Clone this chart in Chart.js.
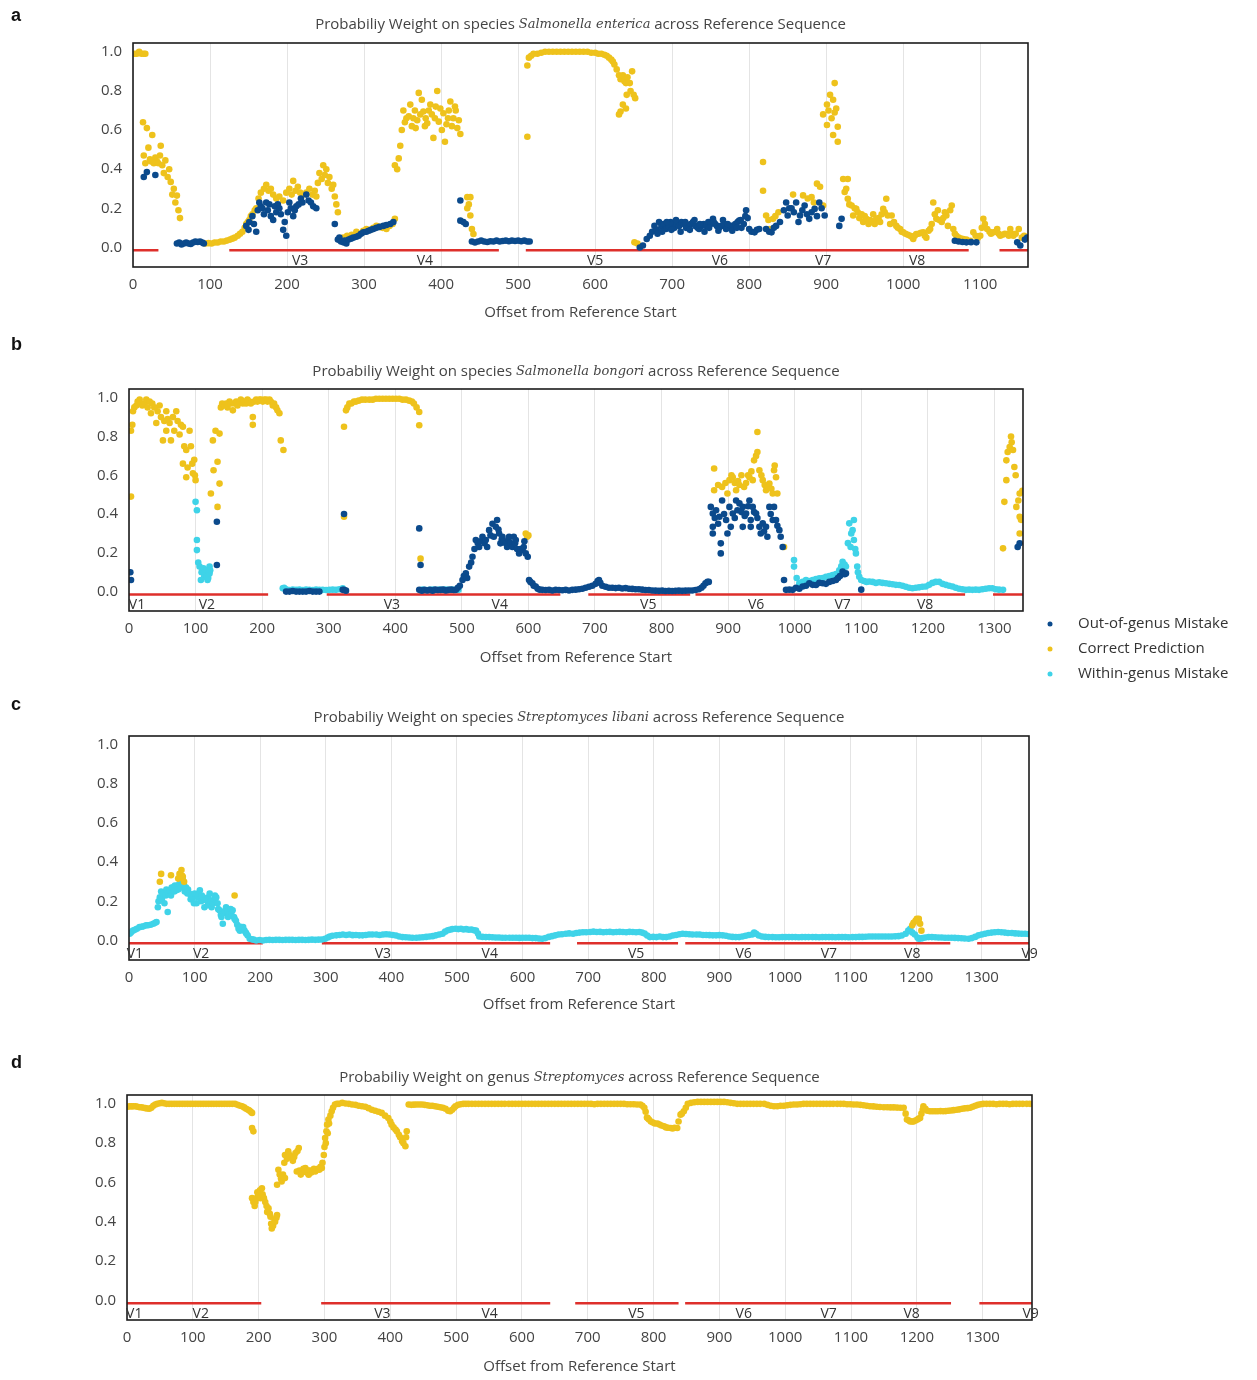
<!DOCTYPE html>
<html>
<head>
<meta charset="utf-8">
<script src="https://cdn.jsdelivr.net/npm/chart.js@4.4.1/dist/chart.umd.min.js"></script>
<style>
  html, body { margin: 0; padding: 0; background: #fff; }
  #page { position: relative; width: 1257px; height: 1380px; overflow: hidden; }
  .panel { position: absolute; left: 0; width: 1257px; }
  .tag { position: absolute; left: 11px; font: bold 18px "Liberation Sans", Arial, sans-serif; color: #111; z-index: 2; }
</style>
</head>
<body>
<div id="page">
  <div class="tag" style="top:5px">a</div>
  <div class="tag" style="top:334px">b</div>
  <div class="tag" style="top:694px">c</div>
  <div class="tag" style="top:1052px">d</div>
  <div class="panel" style="top:0px"><canvas id="chartA" width="1257" height="335"></canvas></div>
  <div class="panel" style="top:345px"><canvas id="chartB" width="1257" height="345"></canvas></div>
  <div class="panel" style="top:700px"><canvas id="chartC" width="1257" height="320"></canvas></div>
  <div class="panel" style="top:1058px"><canvas id="chartD" width="1257" height="322"></canvas></div>
</div>
<script>
// ---- labels ----
const seriesLabels = ["Out-of-genus Mistake", "Correct Prediction", "Within-genus Mistake"];
const yTicks = [0, 0.2, 0.4, 0.6, 0.8, 1.0];
const xTicksA = [0, 100, 200, 300, 400, 500, 600, 700, 800, 900, 1000, 1100];
const xTicksBCD = [0, 100, 200, 300, 400, 500, 600, 700, 800, 900, 1000, 1100, 1200, 1300];

// ---- panel a : Salmonella enterica ----
const aOut = [[14,.36],[18,.385],[29,.37],
  [57,.02],[60,.025],[63,.015],[66,.02],[69,.025],[72,.02],[75,.018],[78,.025],[81,.03],[84,.028],[87,.03],[90,.025],[92,.02],
  [147,.11],[150,.09],[151,.13],[155,.16],[157,.12],[160,.08],[162,.19],[164,.23],[166,.21],[168,.20],[170,.17],[173,.23],[175,.19],[177,.22],[179,.16],[182,.14],[184,.21],[186,.18],[188,.22],[190,.20],[192,.17],[195,.09],[197,.13],[199,.06],[201,.18],[203,.23],[205,.2],[208,.16],[210,.19],[212,.21],[215,.22],[218,.25],[220,.23],[225,.27],[228,.24],[231,.23],[234,.21],[238,.20],[262,.12],
  [266,.04],[268,.05],[270,.03],[273,.026],[275,.035],[277,.02],[280,.04],[283,.045],[286,.05],[290,.055],[293,.06],[296,.07],[299,.077],[303,.08],[306,.085],[309,.09],[312,.094],[316,.1],[320,.105],[325,.11],[329,.115],[334,.12],[338,.13],
  [425,.24],[425,.137],[429,.13],[432,.12],
  [440,.03],[444,.025],[448,.03],[452,.035],[456,.03],[460,.028],[464,.032],[468,.03],[472,.035],[476,.03],[480,.033],[484,.035],[488,.032],[492,.035],[496,.033],[500,.035],[504,.032],[508,.035],[512,.03],[515,.03],
  [658,0],[662,.01],[667,.043],[671,.06],[674,.08],[677,.11],[680,.09],[683,.13],[686,.11],[689,.12],[692,.094],[695,.11],[698,.13],[700,.12],[703,.10],[706,.12],[709,.11],[712,.13],[715,.12],[718,.10],[721,.11],[724,.12],[727,.13],[730,.11],[733,.10],[735,.094],[738,.11],[741,.12],[744,.11],[747,.13],[750,.12],[753,.146],[756,.12],[758,.11],[761,.10],[764,.11],[767,.12],[770,.094],[773,.10],[776,.11],[779,.11],[782,.12],[785,.13],[787,.137],[790,.10],[793,.12],[796,.19],[798,.15],[800,.094],[803,.08],[807,.077],[810,.09],[813,.094],
  [681,.07],[687,.08],[693,.13],[699,.09],[705,.14],[711,.08],[717,.13],[723,.09],[729,.14],[736,.12],[742,.08],[748,.1],[754,.13],[760,.085],[766,.14],[772,.12],[778,.085],[784,.1],[789,.14],[795,.16],
  [822,.094],[826,.08],[829,.077],[832,.1],[835,.11],[840,.13],[845,.19],[848,.23],[850,.163],[852,.2],[855,.20],[858,.18],[861,.23],[864,.13],[866,.163],[869,.19],[872,.214],[875,.17],[878,.146],[881,.18],[885,.197],[888,.16],[891,.23],[894,.2],[898,.163],
  [917,.11],[920,.146],
  [1067,.034],[1072,.03],[1077,.028],[1082,.026],[1088,.027],[1095,.026],[1148,.026],[1152,.01],[1158,.04],[1161,.05]];
const aCorrect = [[2,.99],[5,.99],[8,1.0],[11,.99],[14,.99],[16,.99],
  [13,.64],[14,.47],[16,.43],[18,.61],[20,.51],[22,.45],[23,.44],[25,.575],[27,.43],[29,.46],[31,.44],[33,.43],[35,.47],[36,.52],[38,.42],[40,.38],[42,.445],[45,.36],[47,.40],[49,.335],[51,.27],[53,.30],[55,.23],[57,.265],[59,.19],[61,.15],
  [94,.02],[98,.022],[102,.02],[106,.025],[110,.025],[114,.03],[118,.03],[122,.035],[126,.04],[129,.045],[132,.05],[136,.06],[139,.07],[142,.08],[145,.1],[147,.12],[149,.13],[151,.14],[153,.16],[155,.17],[158,.19],[160,.2],[163,.25],[166,.28],[170,.3],[173,.32],[176,.29],[179,.30],[182,.27],[186,.25],[190,.26],[195,.24],[199,.28],[203,.30],[206,.27],[208,.34],[211,.29],[214,.31],[217,.28],[221,.27],[225,.28],[229,.30],[233,.27],[236,.29],[238,.26],[240,.33],[242,.38],[245,.35],[247,.42],[249,.37],[251,.40],[253,.33],[255,.36],[258,.30],[260,.32],[262,.26],[264,.22],[266,.18],
  [273,.05],[278,.06],[284,.065],[290,.08],[295,.07],[299,.085],[303,.094],[308,.09],[312,.1],[316,.11],[320,.105],[324,.1],[329,.094],[333,.11],[337,.12],[340,.146],
  [340,.42],[343,.40],[345,.455],[347,.52],[349,.60],[351,.70],[353,.64],[355,.66],[358,.67],[360,.73],[362,.62],[364,.66],[366,.70],[367,.61],[369,.65],[371,.79],[373,.68],[375,.755],[377,.695],[379,.62],[380,.66],[382,.635],[384,.70],[386,.73],[388,.68],[390,.56],[392,.66],[393,.72],[395,.80],[397,.643],[399,.71],[401,.6],[403,.686],[405,.54],[407,.63],[409,.66],[410,.70],[412,.746],[414,.62],[416,.66],[418,.72],[419,.70],[421,.61],[423,.65],[425,.58],
  [434,.257],[436,.22],[438,.257],[434,.20],[438,.163],[440,.094],[442,.069],
  [512,.566],
  [512,.93],[514,.97],[517,.98],[520,.99],[525,.99],[530,.995],[535,1.0],[540,1.0],[545,1.0],[550,1.0],[555,1.0],[560,1.0],[565,1.0],[570,1.0],[575,1.0],[580,1.0],[585,1.0],[590,1.0],[595,.995],[600,.995],[604,.99],[608,.99],[612,.985],[615,.98],[618,.97],[621,.96],[623,.95],[625,.935],[628,.91],[631,.88],[633,.86],[636,.88],[638,.85],[640,.84],[642,.87],[645,.84],[646,.80],[648,.90],[650,.78],[652,.763],[641,.78],[633,.695],[640,.71],[631,.68],[636,.73],
  [651,.026],[655,.02],
  [818,.437],[818,.29],[822,.163],[825,.14],[827,.094],[831,.146],[834,.16],[838,.18],
  [857,.27],[870,.266],[881,.257],[888,.326],[892,.31],[896,.214],[884,.23],[876,.25],
  [896,.68],[901,.73],[901,.626],[903,.70],[905,.78],[907,.66],[909,.755],[909,.575],[911,.84],[911,.69],[913,.71],[915,.617],[915,.54],
  [922,.35],[924,.283],[926,.3],[928,.35],[928,.249],[930,.22],[933,.214],[935,.163],[937,.2],[939,.197],[941,.18],[943,.15],[946,.17],[948,.13],[950,.16],[952,.146],[955,.12],[957,.14],[959,.13],[961,.17],[963,.12],[965,.146],[968,.15],[970,.13],[972,.17],[974,.197],[976,.18],[978,.249],[980,.163],[983,.12],[985,.163],[988,.13],[991,.11],[993,.1],[996,.094],[998,.08],[1000,.077],[1003,.07],[1006,.065],[1009,.06],[1011,.055],[1013,.043],[1015,.06],[1017,.069],[1020,.07],[1023,.075],[1026,.077],[1028,.06],[1030,.05],[1033,.085],[1035,.094],[1037,.12],[1039,.23],[1041,.17],[1043,.146],[1045,.19],[1047,.14],[1050,.13],[1052,.15],[1054,.18],[1056,.163],[1058,.11],[1061,.19],[1063,.214],[1065,.094],[1067,.07],[1069,.06],[1072,.05],[1075,.045],[1078,.043],[1082,.04],[1087,.034],[1091,.077],[1094,.06],[1097,.05],[1100,.06],[1102,.1],[1104,.146],[1106,.12],[1109,.094],[1112,.08],[1114,.07],[1117,.077],[1120,.08],[1122,.094],[1124,.07],[1126,.06],[1129,.065],[1132,.07],[1135,.069],[1137,.06],[1139,.094],[1141,.07],[1143,.06],[1146,.07],[1150,.094],[1154,.05],[1157,.06]];
const aWithin = [];
const aRegions = [[0,33],[125,475],[510,1085],[1125,1162]];
const aRegionNames = ["V3","V4","V5","V6","V7","V8"];
const aRegionPos = [217,379,600,762,896,1018];

// ---- panel b : Salmonella bongori ----
const bOut = [[2,.10],[3,.06],[132,.36],[132,.137],
  [236,0],[241,0],[246,.003],[251,0],[256,0],[261,0],[266,0],[271,.003],[276,0],[281,0],[286,0],[321,.009],[323,.009],[326,.005],
  [323,.40],[436,.326],[438,.137],
  [436,.009],[440,.005],[444,.009],[448,.006],[452,.009],[456,.005],[460,.01],[464,.008],[468,.009],[472,.01],[476,.006],[480,.009],[484,.01],[488,.008],[491,.009],[494,.02],[497,.03],
  [501,.06],[503,.08],[506,.094],[508,.07],[511,.129],[514,.15],[516,.18],[519,.22],[521,.266],[524,.25],[526,.23],[528,.26],[531,.283],[534,.25],[536,.266],[538,.23],[541,.317],[543,.29],[546,.35],[548,.283],[551,.334],[553,.369],[555,.32],[556,.30],[558,.249],[560,.27],[561,.283],[563,.26],[566,.249],[568,.23],[570,.27],[571,.283],[573,.25],[576,.23],[578,.283],[580,.25],[581,.266],[583,.22],[586,.197],[588,.22],[591,.214],[593,.23],[594,.26],[596,.197],[599,.18],
  [601,.06],[603,.05],[606,.043],[608,.03],[611,.026],[614,.015],[617,.01],[621,.009],[626,.008],[631,.009],[636,.006],[641,.009],[646,.008],[651,.007],[656,.009],[661,.006],[666,.009],[671,.01],[676,.012],[681,.015],[686,.02],[691,.025],[696,.03],[701,.04],[704,.055],[706,.06],[708,.045],[711,.03],[716,.025],[721,.02],[726,.02],[731,.018],[736,.02],[741,.016],[746,.018],[751,.015],[756,.014],[761,.012],[766,.012],[771,.01],[776,.008],[781,.008],[786,.006],[791,.005],[796,.004],[801,.005],[806,.003],[811,.004],[816,.003],[821,.004],[826,.005],[831,.004],[836,.005],[841,.006],[846,.006],[851,.008],[856,.012],[860,.02],[863,.03],[866,.043],[869,.05],[871,.05],
  [874,.437],[877,.403],[877,.334],[877,.30],[880,.38],[882,.42],[885,.35],[887,.386],[889,.249],[889,.197],[891,.47],[894,.40],[897,.369],[899,.30],[902,.437],[904,.334],[907,.403],[910,.38],[912,.47],[914,.42],[917,.455],[920,.41],[922,.437],[922,.334],[925,.39],[927,.403],[930,.44],[932,.47],[934,.369],[934,.334],[937,.437],[939,.41],[942,.403],[944,.38],[947,.334],[949,.30],[952,.352],[954,.31],[957,.334],[959,.283],[962,.437],[964,.40],[967,.369],[969,.437],[972,.369],[974,.34],[977,.317],[979,.283],[982,.23],[984,.06],
  [987,.009],[992,.01],[997,.009],[1002,.02],[1007,.015],[1012,.026],[1017,.03],[1022,.043],[1027,.035],[1032,.034],[1037,.045],[1042,.043],[1047,.04],[1052,.05],[1057,.055],[1062,.06],[1065,.07],[1068,.08],[1072,.103],[1075,.09],[1077,.094],[1100,.01],[1335,.23],[1338,.249]];
const bCorrect = [[3,.49],[3,.83],[5,.86],[6,.93],[8,.95],[11,.96],[13,.98],[16,.99],[18,.97],[20,.96],[23,.97],[26,.99],[28,.95],[31,.98],[33,.92],[35,.97],[38,.95],[41,.87],[43,.93],[46,.96],[48,.90],[51,.78],[53,.88],[56,.93],[56,.83],[58,.89],[61,.87],[63,.78],[66,.90],[68,.83],[71,.93],[73,.88],[76,.81],[78,.86],[81,.85],[81,.66],[83,.75],[86,.73],[86,.59],[88,.64],[91,.83],[93,.75],[95,.66],[96,.61],[98,.68],[99,.60],[100,.575],
  [123,.506],[126,.78],[127,.626],[130,.83],[133,.67],[133,.437],[136,.557],[136,.815],[138,.95],[140,.97],[143,.96],[146,.97],[148,.95],[151,.98],[153,.97],[156,.935],[158,.97],[161,.98],[163,.96],[166,.98],[168,.99],[171,.97],[173,.98],[176,.97],[178,.99],[181,.98],[183,.97],[186,.90],[186,.86],[188,.98],[191,.99],[193,.98],[196,.99],[198,.99],[201,.98],[203,.99],[206,.99],[208,.98],[211,.99],[213,.98],[216,.96],[218,.97],[221,.95],[223,.935],[226,.92],[228,.78],[232,.73],
  [323,.386],[323,.85],[326,.935],[328,.95],[331,.97],[334,.97],[338,.98],[341,.98],[345,.985],[350,.99],[355,.99],[361,.99],[366,.99],[371,.995],[376,.995],[381,.995],[386,.995],[391,.995],[396,.995],[401,.995],[406,.995],[411,.99],[416,.99],[421,.985],[425,.98],[428,.97],[432,.95],[436,.926],[436,.858],[438,.17],
  [596,.30],[598,.283],[600,.29],
  [879,.635],[879,.523],[885,.55],[891,.54],[896,.56],[899,.506],[902,.575],[905,.6],[907,.59],[910,.56],[912,.523],[915,.57],[917,.55],[920,.6],[924,.54],[927,.56],[930,.6],[932,.59],[935,.62],[937,.575],[939,.677],[942,.7],[944,.72],[944,.823],[947,.626],[950,.6],[952,.575],[955,.55],[957,.523],[960,.54],[962,.557],[965,.53],[967,.506],[969,.626],[970,.65],[972,.59],[974,.506],[984,.23],
  [1313,.223],[1315,.463],[1318,.575],[1318,.677],[1320,.72],[1323,.746],[1325,.80],[1326,.77],[1328,.73],[1330,.643],[1332,.6],[1333,.437],[1336,.47],[1338,.506],[1338,.386],[1338,.30],[1340,.37],[1342,.52]];
const bWithin = [[100,.463],[102,.42],[102,.266],[102,.214],[104,.15],[106,.129],[108,.06],[109,.1],[111,.103],[112,.12],[113,.077],[114,.09],[116,.11],[117,.08],[118,.06],[119,.07],[120,.1],[121,.094],[121,.129],[122,.11],
  [231,.017],[233,.02],[236,.012],[241,.008],[246,.01],[251,.009],[256,.01],[261,.008],[266,.01],[271,.009],[276,.008],[281,.01],[286,.009],[291,.009],[296,.008],[301,.009],[306,.01],[311,.009],[316,.012],[321,.017],
  [441,.01],[446,.008],[451,.009],[456,.01],[461,.008],[466,.01],[471,.009],[476,.01],[481,.009],[486,.01],[491,.008],[495,.01],
  [999,.163],[999,.129],[1003,.07],[1007,.043],[1012,.05],[1017,.06],[1022,.055],[1027,.06],[1032,.065],[1037,.069],[1042,.07],[1047,.077],[1052,.08],[1057,.086],[1062,.09],[1067,.11],[1070,.13],[1072,.154],[1075,.14],[1077,.129],[1080,.25],[1082,.352],[1084,.23],[1085,.3],[1087,.317],[1089,.369],[1089,.266],[1091,.22],[1092,.197],[1094,.129],[1095,.1],[1097,.077],
  [1100,.06],[1104,.055],[1108,.05],[1112,.052],[1117,.05],[1122,.045],[1127,.048],[1132,.045],[1137,.043],[1142,.04],[1147,.038],[1152,.035],[1157,.034],[1162,.03],[1167,.025],[1172,.02],[1177,.017],[1182,.02],[1187,.022],[1192,.025],[1197,.026],[1202,.035],[1207,.045],[1212,.05],[1217,.05],[1222,.04],[1227,.035],[1232,.03],[1237,.026],[1242,.02],[1247,.015],[1252,.012],[1257,.009],[1262,.01],[1267,.009],[1272,.01],[1277,.009],[1282,.012],[1287,.015],[1292,.017],[1297,.017],[1302,.012],[1307,.01],[1313,.009]];
const bRegions = [[0,209],[297,648],[690,843],[851,1256],[1298,1343]];
const bRegionNames = ["V1","V2","V3","V4","V5","V6","V7","V8"];
const bRegionPos = [12,117,395,557,780,942,1072,1196];

// ---- panel c : Streptomyces libani ----
const cOut = [];
const cCorrect = [[47,.3],[49,.34],[64,.333],[75,.316],[77,.34],[78,.32],[80,.36],[81,.33],[82,.325],[84,.3],[161,.23],
  [1194,.077],[1196,.09],[1199,.10],[1201,.11],[1203,.1],[1204,.11],[1206,.085],[1208,.05]];
const cWithin = [[1,.034],[3,.04],[6,.05],[9,.055],[12,.06],[16,.068],[19,.07],[22,.072],[26,.077],[29,.078],[33,.08],[37,.085],[40,.09],[42,.094],[44,.17],[45,.2],[47,.22],[49,.25],[50,.21],[52,.24],[54,.19],[56,.23],[57,.26],[59,.145],[60,.24],[62,.256],[64,.23],[65,.27],[67,.27],[69,.25],[70,.28],[72,.256],[74,.28],[75,.26],[77,.29],[79,.27],[80,.30],[82,.31],[84,.28],[85,.25],[87,.27],[89,.24],[90,.26],[92,.24],[94,.21],[95,.23],[97,.22],[99,.19],[100,.24],[103,.19],[105,.22],[106,.24],[108,.256],[110,.2],[111,.23],[113,.22],[115,.17],[116,.21],[118,.205],[120,.18],[121,.22],[123,.24],[125,.2],[126,.17],[128,.19],[130,.21],[131,.23],[133,.22],[135,.19],[136,.16],[138,.154],[140,.13],[141,.12],[143,.085],[145,.14],[146,.15],[148,.17],[150,.15],[151,.12],[153,.137],[155,.16],[156,.14],[158,.154],[160,.12],[161,.11],[163,.10],[165,.08],[167,.06],[169,.05],[170,.07],[172,.06],[174,.068],[176,.05],[178,.04],[179,.034],[181,.025],[184,.009],[187,.006],[190,.004],[194,0],[199,.002],[204,0],[209,.002],[214,.003],[219,.002],[224,.003],[229,.003],[234,.002],[239,.003],[244,.003],[249,.003],[254,.002],[259,.003],[264,.003],[269,.002],[274,.003],[279,.004],[284,.003],[289,.004],[294,.005],[299,.008],[303,.015],[306,.02],[310,.024],[316,.026],[321,.028],[326,.03],[331,.028],[336,.03],[341,.027],[346,.028],[351,.026],[356,.026],[361,.028],[366,.03],[371,.03],[377,.03],[382,.028],[387,.03],[392,.032],[397,.03],[402,.028],[407,.025],[412,.02],[417,.017],[422,.016],[427,.015],[432,.014],[438,.014],[443,.015],[448,.016],[453,.018],[458,.02],[463,.022],[468,.026],[473,.03],[478,.034],[482,.045],[486,.052],[489,.055],[493,.058],[498,.06],[502,.058],[506,.06],[510,.056],[514,.058],[518,.055],[522,.056],[526,.052],[529,.05],[532,.035],[534,.02],[539,.018],[544,.017],[549,.017],[554,.016],[559,.015],[564,.015],[569,.014],[574,.014],[580,.014],[585,.014],[590,.014],[595,.013],[600,.014],[605,.014],[610,.014],[615,.012],[620,.012],[625,.01],[630,.009],
  [635,.012],[640,.018],[645,.022],[650,.026],[655,.03],[660,.032],[666,.034],[671,.036],[677,.034],[682,.038],[687,.04],[692,.042],[697,.042],[703,.043],[708,.045],[713,.043],[718,.044],[723,.042],[728,.043],[733,.044],[738,.042],[743,.043],[748,.044],[753,.043],[758,.042],[763,.044],[768,.043],[773,.042],[778,.043],[782,.04],[786,.035],[790,.025],[794,.017],[799,.018],[804,.017],[809,.02],[814,.017],[819,.017],[824,.02],[829,.025],[834,.028],[839,.032],[844,.034],[849,.033],[854,.032],[859,.03],[865,.03],[870,.03],[875,.028],[880,.028],[885,.027],[890,.026],[895,.026],[900,.027],[905,.026],[910,.024],[915,.02],[920,.018],[925,.017],[930,.017],[935,.02],[940,.024],[945,.028],[950,.03],[953,.04],[956,.034],[960,.025],[965,.02],[970,.018],[975,.017],[981,.017],[986,.016],[991,.016],[996,.017],[1001,.017],[1006,.017],[1011,.017],[1016,.017],[1021,.016],[1026,.017],[1031,.017],[1036,.017],[1042,.017],[1047,.017],[1052,.016],[1057,.017],[1062,.017],[1067,.017],[1072,.017],[1077,.016],[1082,.017],[1087,.017],[1092,.017],[1097,.016],[1103,.017],[1108,.017],[1113,.018],[1118,.018],[1123,.019],[1128,.02],[1133,.02],[1138,.02],[1143,.02],[1148,.02],[1153,.02],[1158,.02],[1163,.02],[1168,.021],[1173,.022],[1178,.025],[1184,.034],[1188,.05],[1191,.06],[1194,.04],[1198,.03],[1202,.015],[1204,.009],[1207,.01],[1210,.012],[1214,.015],[1219,.017],[1224,.017],[1229,.016],[1234,.015],[1239,.015],[1244,.014],[1249,.014],[1254,.014],[1259,.013],[1264,.012],[1269,.011],[1274,.01],[1280,.009],[1285,.012],[1290,.018],[1295,.026],[1300,.03],[1305,.034],[1310,.038],[1315,.04],[1320,.042],[1325,.043],[1330,.042],[1335,.04],[1340,.038],[1346,.038],[1351,.036],[1356,.035],[1361,.034],[1366,.034],[1371,.033]];
const cRegions = [[0,204],[294,642],[683,837],[848,1252],[1293,1372]];
const cRegionNames = ["V1","V2","V3","V4","V5","V6","V7","V8","V9"];
const cRegionPos = [9,110,387,550,773,937,1067,1194,1373];

// ---- panel d : genus Streptomyces ----
const dOut = [];
const dWithin = [];
const dCorrect = [[1,.985],[4,.988],[7,.987],[10,.988],[13,.988],[16,.985],[19,.983],[22,.983],[25,.98],[28,.978],[31,.976],[34,.975],[37,.98],[40,.99],[43,.997],[46,1.0],[50,1.003],[53,1.005],[56,1.003],[60,1.0],[64,1.0],[68,1.0],[72,1.0],[76,1.0],[80,1.0],[84,1.0],[88,1.0],[92,1.0],[96,1.0],[100,1.0],[104,1.0],[108,1.0],[112,1.0],[116,1.0],[120,1.0],[124,1.0],[128,1.0],[132,1.0],[136,1.0],[140,1.0],[144,1.0],[148,1.0],[152,1.0],[156,1.0],[160,1.0],[164,1.0],[168,.995],[172,.99],[175,.988],[178,.982],[181,.975],[184,.97],[186,.966],[188,.96],[190,.954],[190,.877],[192,.86],
  [190,.52],[192,.5],[194,.48],[195,.50],[197,.52],[198,.55],[200,.537],[202,.56],[203,.52],[205,.57],[206,.54],[208,.52],[210,.50],[212,.48],[213,.45],[215,.468],[217,.44],[218,.426],[219,.39],[220,.366],[222,.38],[224,.41],[225,.40],[227,.42],[228,.434],[228,.588],[230,.664],[232,.64],[234,.62],[235,.605],[237,.64],[239,.70],[240,.622],[240,.74],[243,.72],[245,.758],[247,.74],[250,.732],[252,.71],[254,.73],[256,.75],[258,.656],[259,.76],[261,.775],[262,.66],[264,.64],[266,.656],[268,.67],[270,.66],[271,.673],[273,.65],[275,.66],[276,.639],[278,.66],[280,.65],[282,.66],[284,.67],[286,.656],[288,.665],[290,.67],[292,.665],[294,.68],[296,.673],[297,.7],[299,.74],[300,.78],[301,.826],[302,.8],[303,.86],[304,.894],[305,.85],[306,.92],[307,.9],[309,.94],[311,.962],[313,.98],[316,.997],[319,1.0],[322,1.0],[327,1.005],[332,1.002],[337,1.0],[342,.997],[347,.995],[352,.99],[357,.988],[362,.985],[367,.978],[372,.97],[377,.965],[382,.96],[387,.954],[392,.94],[397,.928],[400,.91],[402,.894],[405,.88],[408,.869],[410,.86],[413,.843],[415,.83],[418,.81],[420,.8],[423,.784],[424,.83],[425,.86],
  [428,.997],[432,.995],[436,.996],[440,.997],[444,.997],[448,.997],[452,.995],[456,.993],[460,.99],[464,.99],[468,.988],[472,.985],[476,.983],[480,.98],[484,.975],[488,.965],[491,.962],[494,.97],[497,.98],[499,.988],[503,.995],[507,.998],[511,1.0],[515,1.0],[519,1.0],[524,1.0],[529,1.0],[534,1.0],[539,1.0],[544,1.0],[549,1.0],[554,1.0],[559,1.0],[564,1.0],[569,1.0],[574,1.0],[580,1.0],[585,1.0],[590,1.0],[595,1.0],[600,1.0],[605,1.0],[610,1.0],[615,1.0],[620,1.0],[625,1.0],[630,1.0],[635,1.0],[640,1.0],[645,1.0],[650,1.0],[655,1.0],[660,1.0],[665,1.0],[670,1.0],[675,1.0],[680,1.0],[685,1.0],[690,1.0],[695,1.0],[700,1.0],[705,1.0],[710,.998],[715,1.0],[720,1.0],[725,1.0],[730,1.0],[735,1.0],[740,1.0],[745,1.0],[750,1.0],[755,1.0],[760,.998],[765,.998],[770,.998],[775,.997],[780,.997],[783,.99],[786,.98],[788,.96],[790,.93],[791,.928],[793,.92],[796,.91],[799,.905],[802,.9],[806,.90],[809,.895],[812,.89],[816,.886],[819,.88],[822,.878],[826,.877],[829,.875],[832,.878],[836,.877],[838,.91],[841,.945],[843,.95],[846,.962],[849,.98],[852,1.0],[857,1.005],[862,1.008],[867,1.01],[872,1.01],[877,1.01],[882,1.01],[887,1.01],[892,1.01],[897,1.01],[902,1.01],[907,1.01],[912,1.008],[917,1.005],[922,1.003],[927,1.0],[932,1.0],[937,1.0],[942,1.0],[947,1.0],[952,1.0],[957,1.0],[962,1.0],[968,1.0],[973,.995],[978,.99],[983,.988],[988,.988],[993,.99],[998,.99],[1003,.993],[1008,.995],[1013,.997],[1018,.997],[1023,.998],[1028,1.0],[1033,1.0],[1038,1.0],[1043,1.0],[1048,1.0],[1053,1.0],[1058,1.0],[1063,1.0],[1068,1.0],[1073,1.0],[1079,1.0],[1084,1.0],[1089,1.0],[1094,.998],[1099,.998],[1104,.997],[1109,.997],[1114,.995],[1119,.993],[1124,.99],[1129,.988],[1134,.987],[1139,.985],[1144,.984],[1150,.983],[1155,.983],[1160,.982],[1165,.982],[1170,.981],[1175,.98],[1180,.98],[1183,.95],[1185,.92],[1188,.915],[1190,.91],[1193,.91],[1195,.91],[1198,.915],[1201,.92],[1203,.925],[1205,.928],[1207,.95],[1209,.97],[1210,.988],[1213,.975],[1216,.965],[1220,.962],[1224,.962],[1228,.962],[1232,.962],[1236,.963],[1240,.962],[1244,.963],[1248,.965],[1252,.966],[1256,.968],[1261,.97],[1265,.972],[1269,.975],[1273,.977],[1277,.978],[1281,.98],[1285,.985],[1289,.99],[1293,.995],[1297,.998],[1301,1.0],[1306,1.0],[1311,1.0],[1316,1.0],[1321,.998],[1326,1.0],[1331,1.0],[1336,1.0],[1341,.998],[1346,1.0],[1351,1.0],[1356,1.0],[1361,1.0],[1367,1.0],[1372,1.0]];
const dRegions = [[0,204],[295,643],[681,838],[848,1252],[1295,1375]];
const dRegionNames = ["V1","V2","V3","V4","V5","V6","V7","V8","V9"];
const dRegionPos = [11,112,388,551,774,937,1066,1192,1373];

// ---- styling ----
const COLORS = ["#0b4a8c", "#eec21c", "#3fd3e8"];
const REGION_COLOR = "#de2f2b";
const REGION_Y = -0.015;
const LABEL_Y = -0.07;
const TEXT = "#444";
const SANS = '"Open Sans", "DejaVu Sans", sans-serif';
const X_AXIS_H = 60;

const toPoints = (pairs) => pairs.map((p) => ({ x: p[0], y: p[1] }));
function regionLine(segs) {
  const pts = [];
  segs.forEach((s) => {
    pts.push({ x: s[0], y: REGION_Y }, { x: s[1], y: REGION_Y }, { x: s[1], y: null });
  });
  return pts;
}

// frame round the plot area (matplotlib box)
const framePlugin = {
  id: "frame",
  afterDatasetsDraw(chart) {
    const { ctx, chartArea: a } = chart;
    ctx.save();
    ctx.strokeStyle = "#1c1c1c";
    ctx.lineWidth = 1.6;
    ctx.strokeRect(a.left, a.top, a.right - a.left, a.bottom - a.top);
    ctx.restore();
  },
};

// V1..V9 names under the red region bars
const regionLabelPlugin = {
  id: "regionLabels",
  afterDatasetsDraw(chart, args, opts) {
    if (!opts || !opts.names) return;
    const { ctx, scales } = chart;
    ctx.save();
    ctx.font = '14px ' + SANS;
    ctx.fillStyle = "#333";
    ctx.textAlign = "center";
    ctx.textBaseline = "middle";
    const y = scales.y.getPixelForValue(LABEL_Y);
    opts.names.forEach((n, i) => {
      ctx.fillText(n, scales.x.getPixelForValue(opts.pos[i]), y);
    });
    ctx.restore();
  },
};

// title with the taxon name in italic serif
const mixedTitlePlugin = {
  id: "mixedTitle",
  afterDraw(chart, args, opts) {
    if (!opts || !opts.parts) return;
    const { ctx, chartArea: a } = chart;
    ctx.save();
    ctx.textBaseline = "middle";
    ctx.textAlign = "left";
    let total = 0;
    opts.parts.forEach((p) => { ctx.font = p.font; total += ctx.measureText(p.text).width; });
    let x = (a.left + a.right) / 2 - total / 2;
    opts.parts.forEach((p) => {
      ctx.font = p.font;
      ctx.fillStyle = TEXT;
      ctx.fillText(p.text, x, opts.y);
      x += ctx.measureText(p.text).width;
    });
    ctx.restore();
  },
};

// legend placed to the right of panel b
const sideLegendPlugin = {
  id: "sideLegend",
  afterDraw(chart, args, opts) {
    if (!opts || !opts.show) return;
    const { ctx } = chart;
    ctx.save();
    ctx.font = '15px ' + SANS;
    ctx.textBaseline = "middle";
    ctx.textAlign = "left";
    chart.data.datasets.filter((d) => d.inLegend).forEach((d, i) => {
      const y = opts.y0 + i * opts.step;
      ctx.fillStyle = d.backgroundColor;
      ctx.beginPath();
      ctx.arc(opts.x, y, 2.5, 0, Math.PI * 2);
      ctx.fill();
      ctx.fillStyle = "#333";
      ctx.fillText(d.label, opts.x + 28, y);
    });
    ctx.restore();
  },
};

Chart.register(framePlugin, regionLabelPlugin, mixedTitlePlugin, sideLegendPlugin);

function makeChart(p) {
  const ctx = document.getElementById(p.id).getContext("2d");
  const canvasH = ctx.canvas.height;
  const series = [p.out, p.correct, p.within];
  const datasets = series.map((s, i) => ({
    label: seriesLabels[i],
    data: toPoints(s),
    backgroundColor: COLORS[i],
    borderWidth: 0,
    pointRadius: 3.3,
    pointHoverRadius: 3.3,
    inLegend: true,
  }));
  datasets.push({
    label: "regions",
    data: regionLine(p.regions),
    showLine: true,
    borderColor: REGION_COLOR,
    borderWidth: 2.5,
    pointRadius: 0,
    spanGaps: false,
    inLegend: false,
  });
  const titlePadBottom = p.bottom + X_AXIS_H - 9 - p.xTitleY;
  return new Chart(ctx, {
    type: "scatter",
    data: { datasets },
    options: {
      responsive: false,
      animation: false,
      events: [],
      layout: {
        autoPadding: false,
        padding: { left: 0, top: p.top, right: 1257 - p.right, bottom: canvasH - p.bottom - X_AXIS_H },
      },
      scales: {
        x: {
          type: "linear",
          min: 0,
          max: p.xMax,
          afterBuildTicks: (s) => { s.ticks = p.xTicks.map((v) => ({ value: v })); },
          afterFit: (s) => { s.height = X_AXIS_H; },
          ticks: { color: TEXT, font: { family: SANS, size: 15 }, padding: 9, maxRotation: 0, autoSkip: false, callback: (v) => String(v) },
          grid: { color: "#e4e4e4", lineWidth: 1, drawTicks: false },
          border: { display: false },
          title: {
            display: true,
            text: "Offset from Reference Start",
            color: TEXT,
            font: { family: SANS, size: 15 },
            padding: { top: 0, bottom: titlePadBottom },
          },
        },
        y: {
          type: "linear",
          min: -0.1,
          max: 1.045,
          afterBuildTicks: (s) => { s.ticks = yTicks.map((v) => ({ value: v })); },
          afterFit: (s) => { s.width = p.left; },
          ticks: { color: TEXT, font: { family: SANS, size: 15 }, padding: 11, callback: (v) => v.toFixed(1) },
          grid: { display: false, drawTicks: false },
          border: { display: false },
        },
      },
      plugins: {
        legend: { display: false },
        tooltip: { enabled: false },
        title: { display: false },
        regionLabels: { names: p.names, pos: p.pos },
        mixedTitle: {
          y: p.titleY,
          parts: [
            { text: "Probabiliy Weight on " + p.rank + " ", font: "15px " + SANS },
            { text: p.taxon, font: 'italic 13px "DejaVu Serif", serif' },
            { text: " across Reference Sequence", font: "15px " + SANS },
          ],
        },
        sideLegend: { show: !!p.legend, x: 1050, y0: 279, step: 25 },
      },
    },
  });
}

makeChart({ id: "chartA", out: aOut, correct: aCorrect, within: aWithin, regions: aRegions, names: aRegionNames, pos: aRegionPos,
  xMax: 1162, xTicks: xTicksA, rank: "species", taxon: "Salmonella enterica",
  left: 133, right: 1028, top: 43, bottom: 267, titleY: 25, xTitleY: 313 });
makeChart({ id: "chartB", out: bOut, correct: bCorrect, within: bWithin, regions: bRegions, names: bRegionNames, pos: bRegionPos,
  xMax: 1343, xTicks: xTicksBCD, rank: "species", taxon: "Salmonella bongori",
  left: 129, right: 1023, top: 44, bottom: 266, titleY: 27, xTitleY: 313, legend: true });
makeChart({ id: "chartC", out: cOut, correct: cCorrect, within: cWithin, regions: cRegions, names: cRegionNames, pos: cRegionPos,
  xMax: 1372, xTicks: xTicksBCD, rank: "species", taxon: "Streptomyces libani",
  left: 129, right: 1029, top: 36, bottom: 260, titleY: 18, xTitleY: 305 });
makeChart({ id: "chartD", out: dOut, correct: dCorrect, within: dWithin, regions: dRegions, names: dRegionNames, pos: dRegionPos,
  xMax: 1375, xTicks: xTicksBCD, rank: "genus", taxon: "Streptomyces",
  left: 127, right: 1032, top: 37, bottom: 262, titleY: 20, xTitleY: 309 });
</script>
</body>
</html>
